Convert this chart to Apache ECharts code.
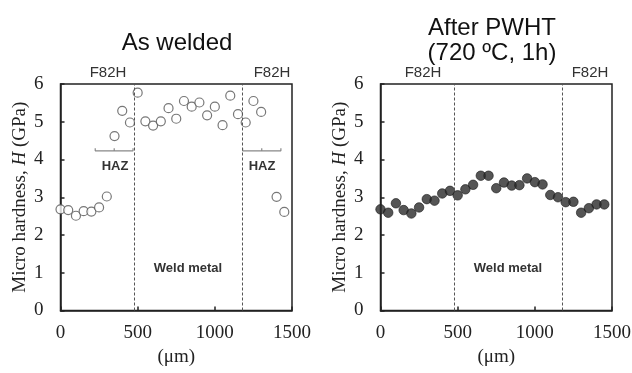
<!DOCTYPE html>
<html>
<head>
<meta charset="utf-8">
<script src="https://cdn.jsdelivr.net/npm/echarts@6/dist/echarts.min.js"></script>
<style>
  html, body { margin: 0; background: #fff; }
  #chart { width: 632px; height: 373px; }
</style>
</head>
<body>
<div id="chart"></div>
<script>
// positions along the weld cross-section (um)
const weldedX = [0, 50, 100, 150, 200, 250, 300, 350, 400, 450, 500, 550, 600, 650, 700, 750,
  800, 850, 900, 950, 1000, 1050, 1100, 1150, 1200, 1250, 1300, 1400, 1450];
const weldedH = [2.68, 2.66, 2.51, 2.63, 2.62, 2.73, 3.02, 4.62, 5.29, 4.98, 5.77, 5.01, 4.90, 5.01,
  5.36, 5.08, 5.55, 5.40, 5.51, 5.17, 5.40, 4.91, 5.69, 5.20, 4.98, 5.55, 5.26, 3.01, 2.61];

const pwhtX = [0, 50, 100, 150, 200, 250, 300, 350, 400, 450, 500, 550, 600, 650, 700, 750,
  800, 850, 900, 950, 1000, 1050, 1100, 1150, 1200, 1250, 1300, 1350, 1400, 1450];
const pwhtH = [2.68, 2.59, 2.84, 2.66, 2.57, 2.73, 2.95, 2.91, 3.10, 3.17, 3.05, 3.21, 3.33, 3.57,
  3.57, 3.24, 3.39, 3.31, 3.32, 3.50, 3.40, 3.34, 3.06, 3.00, 2.87, 2.88, 2.59, 2.71, 2.81, 2.81];

// weld metal / F82H boundaries (um)
const boundaryX = [475, 1175];

// HAZ brackets drawn as small paths in data units
const hazLeft = [[225, 4.30], [225, 4.23], [348, 4.23], [348, 4.30], [348, 4.23], [470, 4.23], [470, 4.30]];
const hazRight = [[1180, 4.30], [1180, 4.23], [1304, 4.23], [1304, 4.30], [1304, 4.23], [1428, 4.23], [1428, 4.30]];

// axis ticks
const xTicks = [0, 500, 1000, 1500];
const yTicks = [0, 1, 2, 3, 4, 5, 6];

const serif = "'Liberation Serif', 'DejaVu Serif', serif";
const sans = "'Liberation Sans', Arial, sans-serif";

const chart = echarts.init(document.getElementById("chart"), null, { renderer: "canvas" });

function xAxisFor(gridIndex) {
  return {
    gridIndex,
    type: "value",
    min: xTicks[0],
    max: xTicks[xTicks.length - 1],
    interval: xTicks[1] - xTicks[0],
    name: "(\u03bcm)",
    nameLocation: "middle",
    nameGap: 35,
    nameTextStyle: { fontFamily: serif, fontSize: 19, color: "#222" },
    axisLine: { show: true, lineStyle: { color: "#222", width: 1.5 } },
    axisTick: { show: true, inside: true, length: 4, lineStyle: { color: "#222", width: 1.5 } },
    axisLabel: { fontFamily: serif, fontSize: 19, color: "#222", margin: 13, formatter: (v) => String(v) },
    splitLine: { show: false },
  };
}

function yAxisFor(gridIndex) {
  return {
    gridIndex,
    type: "value",
    min: yTicks[0],
    max: yTicks[yTicks.length - 1],
    interval: yTicks[1] - yTicks[0],
    name: "{n|Micro hardness, }{i|H}{n| (GPa)}",
    nameLocation: "middle",
    nameRotate: 90,
    nameGap: 31,
    nameTextStyle: {
      rich: {
        n: { fontFamily: serif, fontSize: 19, color: "#222" },
        i: { fontFamily: serif, fontSize: 19, color: "#222", fontStyle: "italic" },
      },
    },
    axisLine: { show: true, lineStyle: { color: "#222", width: 1.5 } },
    axisTick: { show: true, inside: true, length: 4, lineStyle: { color: "#222", width: 1.5 } },
    axisLabel: { fontFamily: serif, fontSize: 19, color: "#222", margin: 17, formatter: (v) => String(v) },
    splitLine: { show: false },
  };
}

const boundaryLines = {
  silent: true,
  symbol: ["none", "none"],
  label: { show: false },
  lineStyle: { color: "#555", type: [3, 2], width: 1 },
  data: boundaryX.map((x) => ({ xAxis: x })),
};

function bracket(data, idx) {
  return {
    type: "line",
    xAxisIndex: idx,
    yAxisIndex: idx,
    data,
    showSymbol: false,
    silent: true,
    lineStyle: { color: "#888", width: 1.2 },
    z: 1,
  };
}

function labelText(x, y, text, size, bold) {
  return {
    type: "text",
    x, y,
    style: {
      text,
      fill: "#333",
      font: (bold ? "bold " : "") + size + "px " + sans,
      textAlign: "center",
      textVerticalAlign: "middle",
    },
  };
}

const option = {
  backgroundColor: "#fff",
  animation: false,
  title: [
    {
      text: "As welded",
      left: 172, top: 26, textAlign: "center",
      textStyle: { fontFamily: sans, fontSize: 24, fontWeight: "normal", color: "#111" },
    },
    {
      text: "After PWHT\n(720 \u00baC, 1h)",
      left: 487, top: 11, textAlign: "center",
      textStyle: { fontFamily: sans, fontSize: 24, fontWeight: "normal", color: "#111", lineHeight: 25 },
    },
  ],
  grid: [
    { left: 60.5, top: 84, width: 231.5, height: 226.5, show: true, borderColor: "#222", borderWidth: 1.5, backgroundColor: "transparent", outerBoundsMode: "none" },
    { left: 380.5, top: 84, width: 231.5, height: 226.5, show: true, borderColor: "#222", borderWidth: 1.5, backgroundColor: "transparent", outerBoundsMode: "none" },
  ],
  xAxis: [xAxisFor(0), xAxisFor(1)],
  yAxis: [yAxisFor(0), yAxisFor(1)],
  series: [
    {
      name: "As welded",
      type: "scatter",
      xAxisIndex: 0,
      yAxisIndex: 0,
      data: weldedX.map((x, i) => [x, weldedH[i]]),
      symbol: "circle",
      symbolSize: 9,
      itemStyle: { color: "#fff", borderColor: "#555", borderWidth: 1.2 },
      markLine: boundaryLines,
      z: 3,
    },
    {
      name: "After PWHT",
      type: "scatter",
      xAxisIndex: 1,
      yAxisIndex: 1,
      data: pwhtX.map((x, i) => [x, pwhtH[i]]),
      symbol: "circle",
      symbolSize: 9.5,
      itemStyle: { color: "#2b2b2b", borderColor: "#1a1a1a", borderWidth: 0.8 },
      markLine: boundaryLines,
      z: 3,
    },
    bracket(hazLeft, 0),
    bracket(hazRight, 0),
  ],
  graphic: [
    labelText(108, 73, "F82H", 15, false),
    labelText(272, 73, "F82H", 15, false),
    labelText(423, 73, "F82H", 15, false),
    labelText(590, 73, "F82H", 15, false),
    labelText(115, 166, "HAZ", 13, true),
    labelText(262, 166, "HAZ", 13, true),
    labelText(188, 268, "Weld metal", 13, true),
    labelText(508, 268, "Weld metal", 13, true),
  ],
};

chart.setOption(option);
</script>
</body>
</html>
